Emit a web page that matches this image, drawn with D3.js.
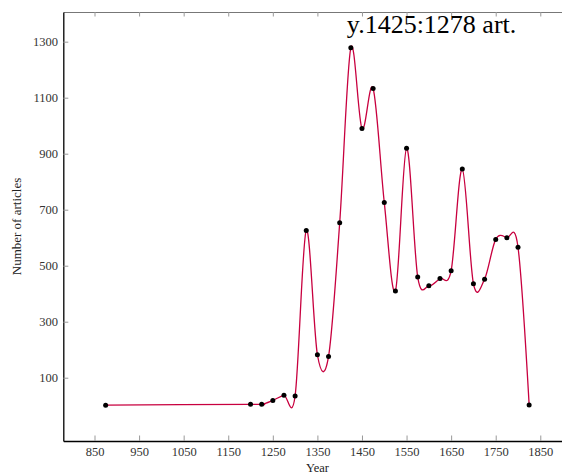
<!DOCTYPE html>
<html>
<head>
<meta charset="utf-8">
<script src="https://cdn.jsdelivr.net/npm/d3@7"></script>
<style>
  body { margin: 0; background: #fff; }
  svg { display: block; font-family: "Liberation Serif", "DejaVu Serif", serif; }
</style>
</head>
<body>
<div id="chart"></div>
<script>
// data
var years    = [875, 1200, 1225, 1250, 1275, 1300, 1325, 1350, 1375, 1400, 1425, 1450, 1475, 1500,
                1525, 1550, 1575, 1600, 1625, 1650, 1675, 1700, 1725, 1750, 1775, 1800, 1825];
var articles = [2, 5, 5, 19, 37, 35, 626, 182, 176, 653, 1278, 990, 1133, 726,
                410, 919, 460, 428, 454, 482, 845, 436, 452, 594, 600, 566, 3];
var xTicks = [850, 950, 1050, 1150, 1250, 1350, 1450, 1550, 1650, 1750, 1850];
var yTicks = [100, 300, 500, 700, 900, 1100, 1300];

var W = 562, H = 475;
var mLeft = 63.3, mTop = 12, mRight = 571.5, mBottom = 441;
var lineColor = "#c8003f";

var points = years.map(function(d, i){ return {year: d, n: articles[i]}; });

var svg = d3.select("#chart").append("svg")
  .attr("width", W)
  .attr("height", H);

var x = d3.scaleLinear().domain([780, 1920]).range([mLeft, mRight]);
var y = d3.scaleLinear().domain([-126, 1406]).range([mBottom, mTop]);

// top border with inward ticks
var gTop = svg.append("g")
  .attr("transform", "translate(0," + mTop + ")")
  .call(d3.axisTop(x).tickValues(xTicks).tickSize(-4.5).tickSizeOuter(0).tickFormat(""));
gTop.select(".domain").attr("stroke", "#777");
gTop.selectAll(".tick line").attr("stroke", "#999");

// bottom axis
var gx = svg.append("g")
  .attr("transform", "translate(0," + mBottom + ")")
  .call(d3.axisBottom(x).tickValues(xTicks).tickSize(-5.5).tickSizeOuter(0).tickPadding(6)
    .tickFormat(d3.format("d")));
gx.select(".domain").attr("stroke", "#000").attr("stroke-width", 1.3);
gx.selectAll(".tick line").attr("stroke", "#999");
gx.selectAll(".tick text").attr("font-size", 12.5).attr("fill", "#333")
  .attr("font-family", "Liberation Serif");

// left axis
var gy = svg.append("g")
  .attr("transform", "translate(" + mLeft + ",0)")
  .call(d3.axisLeft(y).tickValues(yTicks).tickSize(-5).tickSizeOuter(0).tickPadding(5.3)
    .tickFormat(d3.format("d")));
gy.select(".domain").attr("stroke", "#000").attr("stroke-width", 1.3);
gy.selectAll(".tick line").attr("stroke", "#999");
gy.selectAll(".tick text").attr("font-size", 12.5).attr("fill", "#333")
  .attr("font-family", "Liberation Serif");

// axis titles
svg.append("text")
  .attr("x", (mLeft + mRight) / 2)
  .attr("y", 472)
  .attr("text-anchor", "middle")
  .attr("font-size", 12.5)
  .attr("fill", "#222")
  .text("Year");

svg.append("text")
  .attr("transform", "translate(21," + (mTop + mBottom) / 2 + ") rotate(-90)")
  .attr("text-anchor", "middle")
  .attr("font-size", 13)
  .attr("fill", "#222")
  .text("Number of articles");

// smooth line
var line = d3.line()
  .x(function(d){ return x(d.year); })
  .y(function(d){ return y(d.n); })
  .curve(d3.curveCardinal.tension(0));

svg.append("path")
  .datum(points)
  .attr("d", line)
  .attr("fill", "none")
  .attr("stroke", lineColor)
  .attr("stroke-width", 1.3);

svg.selectAll("circle.pt")
  .data(points)
  .enter().append("circle")
  .attr("class", "pt")
  .attr("cx", function(d){ return x(d.year); })
  .attr("cy", function(d){ return y(d.n); })
  .attr("r", 2.5)
  .attr("fill", "#000");

// peak annotation
var peak = points.reduce(function(a, b){ return b.n > a.n ? b : a; });
svg.append("text")
  .attr("x", x(peak.year) - 4)
  .attr("y", 33)
  .attr("font-size", 26)
  .attr("fill", "#000")
  .text("y." + peak.year + ":" + peak.n + " art.");
</script>
</body>
</html>
